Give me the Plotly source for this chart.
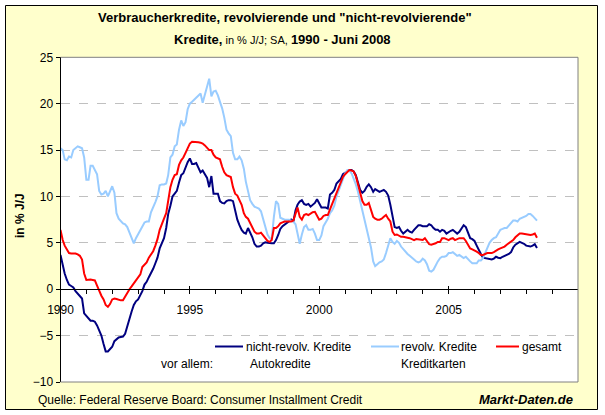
import pandas as pd
import plotly.graph_objects as go

# ---------------- data ----------------
months = pd.date_range("1990-01-01", "2008-06-01", freq="MS")

nicht_revolv = [
    3.7, 2.5, 1.7, 1.0, 0.5, 0.35, 0.2, -0.2, -0.5, -0.7, -1.0, -2.6,
    -2.9, -3.2, -3.4, -3.4, -3.5, -3.9, -4.4, -5.0, -5.9, -6.7, -6.7, -6.5,
    -6.2, -5.6, -5.4, -5.2, -5.15, -5.1, -4.8, -3.9, -3.1, -2.4, -1.7, -1.3,
    -1.1, -0.7, -0.2, 0.5, 0.8, 1.3, 1.7, 2.2, 2.8, 3.4, 4.4, 5.0,
    5.5, 6.6, 8.1, 9.0, 10.0, 10.3, 10.6, 11.5, 12.3, 12.5, 13.2, 13.7,
    14.1, 13.5, 13.5, 13.6, 13.1, 12.6, 12.8, 12.4, 12.0, 11.0, 12.2, 10.3,
    10.3, 10.3, 9.5, 9.3, 9.25, 9.5, 9.6, 9.6, 9.5, 8.4, 7.5, 6.9,
    6.4, 6.1, 6.0, 6.6, 6.1, 5.6, 4.9, 4.6, 4.6, 4.7, 4.95, 5.05,
    5.0, 4.95, 4.95, 4.95, 5.3, 5.85, 6.5, 6.8, 7.0, 7.1, 7.3, 7.5,
    7.3, 8.5, 9.1, 9.45, 9.6, 9.2, 9.1, 9.2, 8.9, 9.1, 9.3, 9.7,
    9.2, 8.8, 8.8, 8.8, 8.7, 10.2, 10.4, 10.7, 11.4, 11.6, 11.9, 12.4,
    12.6, 12.7, 12.85, 12.85, 12.7, 12.3, 11.5, 10.7, 10.4, 10.6, 11.05, 11.3,
    11.0, 10.5, 10.8, 10.6, 10.5, 10.6, 10.7, 10.5, 10.1, 9.1, 7.8, 6.7,
    6.6, 6.7, 6.3, 6.0, 6.2, 6.4, 6.2, 6.1, 6.4, 6.7, 6.9, 6.9,
    6.8, 6.8, 6.8, 7.0, 6.9, 6.6, 6.4, 6.4, 6.2, 6.4, 6.3, 6.0,
    6.2, 6.3, 6.4, 6.2, 6.0, 6.2, 6.6, 6.9, 6.7, 6.2, 5.5, 5.4,
    5.2, 4.7, 4.2, 3.8, 3.4, 3.35, 3.3, 3.25, 3.2, 3.3, 3.5, 3.4,
    3.35, 3.5, 3.6, 3.7, 3.8, 4.0, 4.5, 4.8, 5.0, 5.1, 5.0, 4.9,
    4.7, 4.65, 4.6, 4.7, 4.85, 4.45,
]

revolv = [
    15.2, 15.0, 14.0, 13.9, 14.3, 14.2, 15.0, 15.2, 15.4, 15.3, 15.2, 14.2,
    11.8, 11.8, 13.3, 13.3, 12.9, 12.4, 10.6, 10.2, 10.3, 10.6, 10.0, 10.5,
    11.1, 10.4, 8.2, 7.6, 7.3, 7.1, 7.0, 6.7, 6.1, 5.6, 4.95, 5.5,
    5.9, 6.3, 6.8, 7.2, 7.3, 7.3, 8.3, 8.8, 9.4, 10.0, 11.2, 11.3,
    11.3, 11.4, 12.3, 14.2, 14.5, 15.4, 15.6, 17.2, 18.2, 17.6, 18.0, 19.4,
    20.0, 20.2, 20.4, 20.6, 20.8, 21.1, 20.1, 21.0, 21.6, 22.7, 20.8, 21.3,
    21.4, 20.9, 20.2, 19.5, 18.5, 17.2, 16.8, 16.5, 14.7, 14.0, 14.0, 14.3,
    13.9, 13.0, 11.6, 10.5, 9.6, 9.2, 8.9, 8.8, 8.7, 8.4, 7.5, 6.8,
    5.9, 5.5, 5.4, 7.8, 9.5, 9.2, 7.7, 7.6, 7.5, 7.5, 7.5, 7.4,
    7.3, 7.0, 6.0, 4.9, 5.9, 6.7, 6.9, 6.4, 6.4, 6.5, 6.0, 5.3,
    5.3, 5.8, 6.8, 7.2, 7.6, 8.2, 8.5, 9.0, 10.0, 10.6, 11.3, 12.0,
    12.5, 12.85, 12.8, 12.5, 12.0, 11.3, 10.5, 9.5, 8.3, 7.3, 6.4, 5.5,
    4.5, 3.0, 2.5, 2.7, 2.9, 3.0, 3.2, 3.9, 4.8, 5.5, 5.1, 4.9,
    5.2, 5.0, 4.6, 4.3, 4.0, 3.8, 3.6, 3.35, 3.2, 3.0, 2.9, 3.0,
    3.3, 3.1, 2.7, 2.0, 1.9, 2.1, 2.6, 3.0, 3.35, 3.5, 3.5, 3.6,
    3.9, 3.9, 4.0, 3.8, 3.6, 3.7, 3.5, 3.35, 3.5, 3.2, 3.0, 2.8,
    2.8, 2.8, 3.1, 3.1, 3.35, 3.9, 4.6, 5.0, 5.3, 5.5, 5.6, 6.0,
    6.4, 6.5, 6.6, 6.6, 6.9, 7.2, 7.4, 7.4, 7.3, 7.6, 7.7, 7.8,
    7.9, 8.1, 8.1, 7.9, 7.6, 7.4,
]

gesamt = [
    6.4, 5.3, 4.7, 4.2, 3.9, 3.85, 3.85, 3.85, 3.75, 3.6, 3.2, 1.7,
    1.0, 1.05, 1.05, 1.0, 0.95, 0.4, -0.25, -0.7, -1.1, -1.7, -1.9, -1.6,
    -1.1, -1.0, -1.05, -1.15, -1.2, -1.2, -0.8, -0.3, 0.0, 0.3, 0.65, 0.9,
    1.2, 1.6, 2.4, 2.7, 2.9, 3.4, 3.7, 4.1, 4.7, 5.4, 6.4, 7.1,
    7.6, 8.2, 9.4, 11.0, 11.8, 12.3, 12.4, 13.4, 13.9, 14.2, 14.7, 15.2,
    15.7, 15.9, 15.9, 15.9, 15.85, 15.8, 15.7, 15.5, 15.2, 15.0, 15.0, 14.5,
    14.2, 14.1, 14.0, 13.2, 12.6, 12.3, 12.2, 12.1, 11.0, 10.3, 10.1, 9.5,
    9.1, 8.2, 7.8, 7.6, 7.1, 6.7, 6.2, 6.0, 6.0, 6.1, 5.8, 5.6,
    5.2, 5.1, 5.3, 6.6, 6.6, 6.8, 7.1, 7.2, 7.3, 7.3, 7.3, 7.3,
    7.4, 8.3, 8.8, 7.8, 7.5, 8.0, 8.1, 8.0, 8.2, 8.3, 8.35, 8.0,
    7.5, 7.6, 7.9, 8.0, 8.0, 8.6, 9.2, 9.8, 10.5, 11.1, 11.6, 12.1,
    12.4, 12.7, 12.85, 12.8, 12.7, 12.2, 11.4, 10.5, 9.5, 9.1, 9.1, 9.3,
    8.5, 7.8, 7.6, 7.5, 7.5, 7.6, 7.8, 8.0, 7.6, 7.3, 6.2, 5.85,
    5.9, 5.75, 5.65, 5.65, 5.6, 5.6, 5.5, 5.4, 5.3, 5.4, 5.35, 5.35,
    5.3, 5.5, 5.2, 4.85, 4.8, 4.85, 4.95, 5.1, 5.1, 5.5, 5.5, 5.4,
    5.3, 5.45, 5.5, 5.3, 5.4, 5.5, 5.5, 5.5, 5.2, 4.8, 4.4, 4.3,
    4.2, 4.05, 3.9, 3.7, 3.7, 3.8, 3.9, 3.9, 3.9, 4.0, 4.2, 4.3,
    4.4, 4.5, 4.6, 4.8, 4.95, 5.1, 5.3, 5.6, 5.85, 6.0, 6.0, 5.95,
    5.9, 5.9, 5.85, 5.9, 6.0, 5.55,
]

x_major_ticks = ["1990-01-01", "1995-01-01", "2000-01-01", "2005-01-01"]
x_major_labels = ["1990", "1995", "2000", "2005"]
x_minor_ticks = [f"{y}-01-01" for y in range(1991, 2010) if y % 5 != 0]
y_ticks = [-10, -5, 0, 5, 10, 15, 20, 25]

series_names = ["nicht-revolv. Kredite", "revolv. Kredite", "gesamt"]
series_colors = ["#000080", "#99CCFF", "#FF0000"]

# ---------------- layout geometry ----------------
W, H = 605, 415
PX0, PX1 = 60.5, 578.0      # plot area left / right (px)
PY_TOP, PY_BOT = 57.3, 382.0  # plot area top / bottom (px)
YMIN, YMAX = -10, 25


def fx(px):
    return px / W


def fy(py):
    return 1 - py / H


xdom = [fx(PX0), fx(PX1)]
ydom = [fy(PY_BOT), fy(PY_TOP)]
zero_pos = ydom[0] + (0 - YMIN) / (YMAX - YMIN) * (ydom[1] - ydom[0])

FONT = "Arial, 'Liberation Sans', sans-serif"

fig = go.Figure()
for name, vals, col in zip(series_names, [nicht_revolv, revolv, gesamt], series_colors):
    fig.add_trace(go.Scatter(
        x=months, y=vals, mode="lines", name=name,
        line=dict(color=col, width=2), showlegend=False, hoverinfo="skip",
    ))

# overlay axis only for the upward half of the major ticks (crossing ticks)
fig.add_trace(go.Scatter(x=[], y=[], xaxis="x2", showlegend=False, hoverinfo="skip"))

fig.update_layout(
    template="none",
    width=W, height=H,
    margin=dict(l=0, r=0, t=0, b=0, pad=0, autoexpand=False),
    paper_bgcolor="white",
    plot_bgcolor="rgba(0,0,0,0)",
    font=dict(family=FONT, size=12, color="black"),
    xaxis=dict(
        type="date", domain=xdom, range=["1990-01-01", "2010-01-01"],
        anchor="free", position=zero_pos, automargin=False,
        showline=True, linecolor="black", linewidth=1,
        ticks="outside", ticklen=4, tickcolor="black", tickwidth=1,
        tickmode="array", tickvals=x_major_ticks, ticktext=x_major_labels,
        ticklabelstandoff=5,
        minor=dict(tickmode="array", tickvals=x_minor_ticks, ticks="outside",
                   ticklen=4, tickcolor="black", showgrid=False),
        showgrid=False, zeroline=False, fixedrange=True,
        tickfont=dict(size=12, family=FONT, color="black"),
    ),
    xaxis2=dict(
        type="date", domain=xdom, range=["1990-01-01", "2010-01-01"],
        overlaying="x", anchor="free", position=zero_pos, automargin=False,
        showline=False, ticks="inside", ticklen=3, tickcolor="black",
        tickmode="array", tickvals=x_major_ticks, showticklabels=False,
        showgrid=False, zeroline=False,
    ),
    yaxis=dict(
        domain=ydom, range=[YMIN, YMAX], anchor="x", automargin=False,
        tickmode="array", tickvals=y_ticks,
        showline=True, linecolor="black", linewidth=1,
        ticks="outside", ticklen=4, tickcolor="black",
        showgrid=True, gridcolor="#C0C0C0", griddash="dash", gridwidth=1,
        zeroline=False, fixedrange=True,
        tickfont=dict(size=12, family=FONT, color="black"),
    ),
)

shapes = [
    # yellow chart area with black frame
    dict(type="rect", xref="paper", yref="paper",
         x0=fx(5.5), x1=fx(597.5), y0=fy(409.5), y1=fy(5.5),
         fillcolor="#FFFFCC", line=dict(color="black", width=1), layer="below"),
    # white plot area
    dict(type="rect", xref="x domain", yref="y domain", x0=0, x1=1, y0=0, y1=1,
         fillcolor="white", line=dict(width=0), layer="below"),
    # gray frame: top, right, bottom
    dict(type="line", xref="x domain", yref="y domain", x0=0, x1=1, y0=1, y1=1,
         line=dict(color="#808080", width=1), layer="above"),
    dict(type="line", xref="x domain", yref="y domain", x0=1, x1=1, y0=0, y1=1,
         line=dict(color="#808080", width=1), layer="above"),
    dict(type="line", xref="x domain", yref="y domain", x0=0, x1=1, y0=0, y1=0,
         line=dict(color="#808080", width=1), layer="above"),
]

# legend samples
legend_items = [
    (215, 243, 245, "nicht-revolv. Kredite", 249, "Autokredite"),
    (371, 399, 400, "revolv. Kredite", 400, "Kreditkarten"),
    (496, 519, 521, "gesamt", None, None),
]
LEG_Y1, LEG_Y2 = 346.5, 363.5
annotations = []
for (l0, l1, tx, t1, tx2, t2), col in zip(legend_items, series_colors):
    shapes.append(dict(type="line", xref="paper", yref="paper",
                       x0=fx(l0), x1=fx(l1), y0=fy(LEG_Y1), y1=fy(LEG_Y1),
                       line=dict(color=col, width=2), layer="above"))
    annotations.append(dict(text=t1, x=fx(tx), y=fy(LEG_Y1), xanchor="left",
                            yanchor="middle", showarrow=False, xref="paper",
                            yref="paper", font=dict(size=12), borderpad=0))
    if t2:
        annotations.append(dict(text=t2, x=fx(tx2), y=fy(LEG_Y2), xanchor="left",
                                yanchor="middle", showarrow=False, xref="paper",
                                yref="paper", font=dict(size=12), borderpad=0))
annotations.append(dict(text="vor allem:", x=fx(160), y=fy(LEG_Y2), xanchor="left",
                        yanchor="middle", showarrow=False, xref="paper", yref="paper",
                        font=dict(size=12), borderpad=0))

# titles and other texts
annotations += [
    dict(text="<b>Verbraucherkredite, revolvierende und \"nicht-revolvierende\"</b>",
         x=fx(285), y=fy(17.5), xanchor="center", yanchor="middle",
         showarrow=False, xref="paper", yref="paper", font=dict(size=13), borderpad=0),
    dict(text="<b>Kredite,</b><span style='font-size:11px;color:black'> in % J/J; SA, </span><b>1990 - Juni 2008</b>",
         x=fx(282), y=fy(40), xanchor="center", yanchor="middle",
         showarrow=False, xref="paper", yref="paper", font=dict(size=13), borderpad=0),
    dict(text="<b>in % J/J</b>", textangle=-90, x=fx(20), y=fy(216),
         xanchor="center", yanchor="middle", showarrow=False, xref="paper",
         yref="paper", font=dict(size=12), borderpad=0),
    dict(text="Quelle: Federal Reserve Board: Consumer Installment Credit",
         x=fx(36.5), y=fy(399.5), xanchor="left", yanchor="middle",
         showarrow=False, xref="paper", yref="paper", font=dict(size=12), borderpad=0),
    dict(text="<b><i>Markt-Daten.de</i></b>", x=fx(574), y=fy(399.5),
         xanchor="right", yanchor="middle", showarrow=False, xref="paper",
         yref="paper", font=dict(size=13), borderpad=0),
]

fig.update_layout(shapes=shapes, annotations=annotations)
fig.write_html("out.html", config=dict(displayModeBar=False, staticPlot=True))
